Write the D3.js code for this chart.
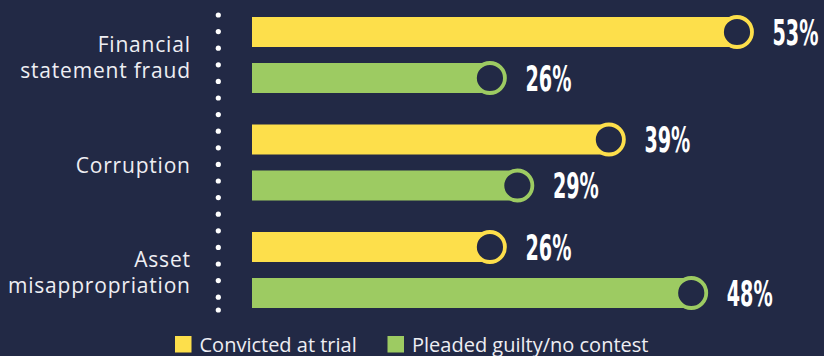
<!DOCTYPE html>
<html>
<head>
<meta charset="utf-8">
<script src="https://cdn.jsdelivr.net/npm/d3@7/dist/d3.min.js"></script>
<style>
  html, body { margin: 0; padding: 0; background: #222945; }
  svg { display: block; }
</style>
</head>
<body>
<svg id="chart" width="824" height="356"></svg>
<script>
// Share of cases by outcome, per scheme type
const categories = ["Financial statement fraud", "Corruption", "Asset misappropriation"];
const categoryLines = [["Financial", "statement fraud"], ["Corruption"], ["Asset", "misappropriation"]];
const seriesNames = ["Convicted at trial", "Pleaded guilty/no contest"];
const convicted = [53, 39, 26];
const pleaded = [26, 29, 48];

const bg = "#222945";
const colors = ["#fddf4b", "#9dcb62"];
const textColor = "#eeeef3";

const svg = d3.select("#chart");
svg.append("rect").attr("width", 824).attr("height", 356).attr("fill", bg);

const rows = categories.map((c, i) => ({
  category: c,
  values: [
    { series: seriesNames[0], value: convicted[i] },
    { series: seriesNames[1], value: pleaded[i] }
  ]
}));

const x = d3.scaleLinear().domain([0, 53]).range([252, 737]);
const y0 = d3.scaleBand().domain(categories).range([17, 308]).paddingInner(0.293).paddingOuter(0);
const y1 = d3.scaleBand().domain(seriesNames).range([0, y0.bandwidth()]).paddingInner(16 / 46);
const color = d3.scaleOrdinal().domain(seriesNames).range(colors);

// dotted divider
const dotYs = d3.range(15, 300, 16.6).concat([310]);
svg.append("g").selectAll("circle").data(dotYs).join("circle")
  .attr("cx", 218.3).attr("cy", d => d).attr("r", 2.6).attr("fill", "#ffffff");

// category labels
const labels = svg.append("g")
  .attr("font-family", "'Open Sans', sans-serif")
  .attr("font-size", 21)
  .attr("letter-spacing", 0.8)
  .attr("fill", textColor)
  .attr("text-anchor", "end");
categories.forEach((c, i) => {
  const lines = categoryLines[i];
  const mid = y0(c) + y0.bandwidth() / 2;
  const lh = 25.5;
  lines.forEach((ln, j) => {
    labels.append("text")
      .attr("x", 190.8)
      .attr("y", mid + (j - (lines.length - 1) / 2) * lh + 10)
      .text(ln);
  });
});

// bars with ring markers and value labels
const groups = svg.append("g").selectAll("g").data(rows).join("g")
  .attr("transform", d => `translate(0,${y0(d.category)})`);

const item = groups.selectAll("g").data(d => d.values).join("g")
  .attr("transform", d => `translate(0,${y1(d.series)})`);

item.append("rect")
  .attr("x", x(0))
  .attr("y", 0)
  .attr("width", d => x(d.value) - x(0))
  .attr("height", y1.bandwidth())
  .attr("fill", d => color(d.series));

item.append("circle")
  .attr("cx", d => x(d.value))
  .attr("cy", y1.bandwidth() / 2)
  .attr("r", 15)
  .attr("fill", bg)
  .attr("stroke", d => color(d.series))
  .attr("stroke-width", 3.8);

// tall condensed value labels: condensed bold face, squeezed horizontally
item.append("text")
  .attr("transform", d => `translate(${x(d.value) + 35.5},${y1.bandwidth() / 2 + 12.6}) scale(0.61,1)`)
  .attr("font-family", "'DejaVu Sans Condensed', 'DejaVu Sans', sans-serif")
  .attr("font-stretch", "condensed")
  .attr("font-weight", "bold")
  .attr("font-size", 35)
  .attr("fill", "#ffffff")
  .text(d => d.value + "%");

// legend
const legend = svg.append("g")
  .attr("font-family", "'Open Sans', sans-serif")
  .attr("font-size", 20)
  .attr("fill", textColor);
const legendX = [175, 387.5];
seriesNames.forEach((s, i) => {
  legend.append("rect")
    .attr("x", legendX[i]).attr("y", 336)
    .attr("width", 16.5).attr("height", 16.5)
    .attr("fill", color(s));
  legend.append("text")
    .attr("x", legendX[i] + 24.5).attr("y", 351.5)
    .text(s);
});
</script>
</body>
</html>
